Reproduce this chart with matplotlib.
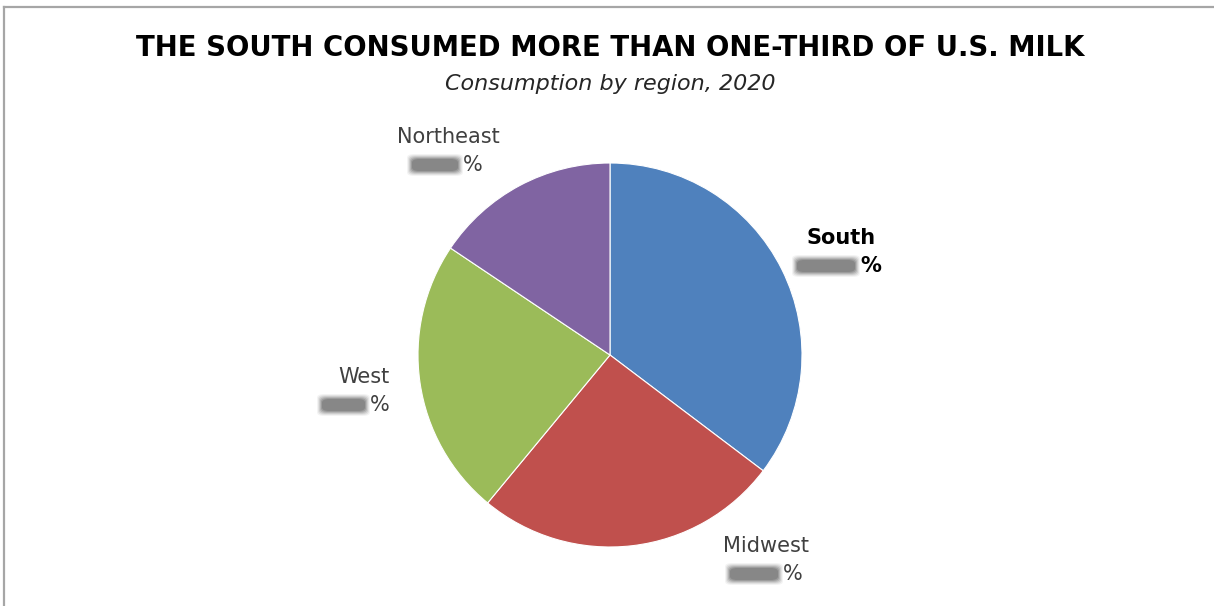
import matplotlib
matplotlib.use('Agg')
import matplotlib.pyplot as plt
from matplotlib.patches import FancyBboxPatch
from matplotlib.lines import Line2D

# ── Data ────────────────────────────────────────────────────────────
regions = ['South', 'Midwest', 'West', 'Northeast']
shares  = [35.3, 25.7, 23.4, 15.6]   # percent of U.S. milk consumption
colors  = ['#4F81BD', '#C0504D', '#9BBB59', '#8064A2']

# label placement in pixels (name centre x, name y, blob left, blob right)
label_pos = {
    'South':     (841, 238, 797, 855),
    'Midwest':   (766, 546, 730, 778),
    'West':      (364, 377, 322, 365),
    'Northeast': (448, 137, 412, 458),
}

W, H = 1214, 606
fig = plt.figure(figsize=(W / 100, H / 100), dpi=100)
fig.patch.set_facecolor('white')

def fx(px):
    return px / W

def fy(py):
    return 1 - py / H

# frame (top and left edges visible)
fig.add_artist(Line2D([fx(4), 1], [fy(7), fy(7)], color='#a6a6a6', lw=1.6))
fig.add_artist(Line2D([fx(4), fx(4)], [fy(7), 0], color='#a6a6a6', lw=1.6))

# ── Title ───────────────────────────────────────────────────────────
fig.text(fx(610), fy(48), 'THE SOUTH CONSUMED MORE THAN ONE-THIRD OF U.S. MILK',
         ha='center', va='center', fontsize=19.8, fontweight='bold', color='black')
fig.text(fx(610), fy(84), 'Consumption by region, 2020',
         ha='center', va='center', fontsize=16, style='italic', color='#262626')

# ── Pie ─────────────────────────────────────────────────────────────
cx, cy, r = 610, 355, 192
ax = fig.add_axes([fx(cx - r), fy(cy + r), 2 * r / W, 2 * r / H])
ax.pie(shares, colors=colors, startangle=90, counterclock=False,
       wedgeprops=dict(edgecolor='white', linewidth=0.8))
ax.set_xlim(-1.0, 1.0)
ax.set_ylim(-1.0, 1.0)
ax.set_aspect('equal')
ax.axis('off')

# ── Labels (values are blurred out in the source) ───────────────────
for name in regions:
    x, y, b0, b1 = label_pos[name]
    bold = name == 'South'
    fig.text(fx(x), fy(y), name, ha='center', va='center', fontsize=15,
             fontweight='bold' if bold else 'normal',
             color='black' if bold else '#404040')
    yb = y + 28
    # soft grey blob standing in for the hidden number
    for k, a in enumerate([0.08, 0.12, 0.18, 0.25, 0.35, 0.45]):
        pad = 5 - k
        fig.add_artist(FancyBboxPatch((fx(b0 - pad), fy(yb + 6 + pad)),
                                      fx(b1 - b0 + 2 * pad), (12 + 2 * pad) / H,
                                      boxstyle='round,pad=0,rounding_size=0.006',
                                      transform=fig.transFigure,
                                      facecolor='#6e6e6e', edgecolor='none', alpha=a))
    fig.text(fx(b1 + 5), fy(yb), '%', ha='left', va='center', fontsize=15,
             fontweight='bold' if bold else 'normal',
             color='black' if bold else '#404040')

fig.savefig('out.png', dpi=100, facecolor='white')
